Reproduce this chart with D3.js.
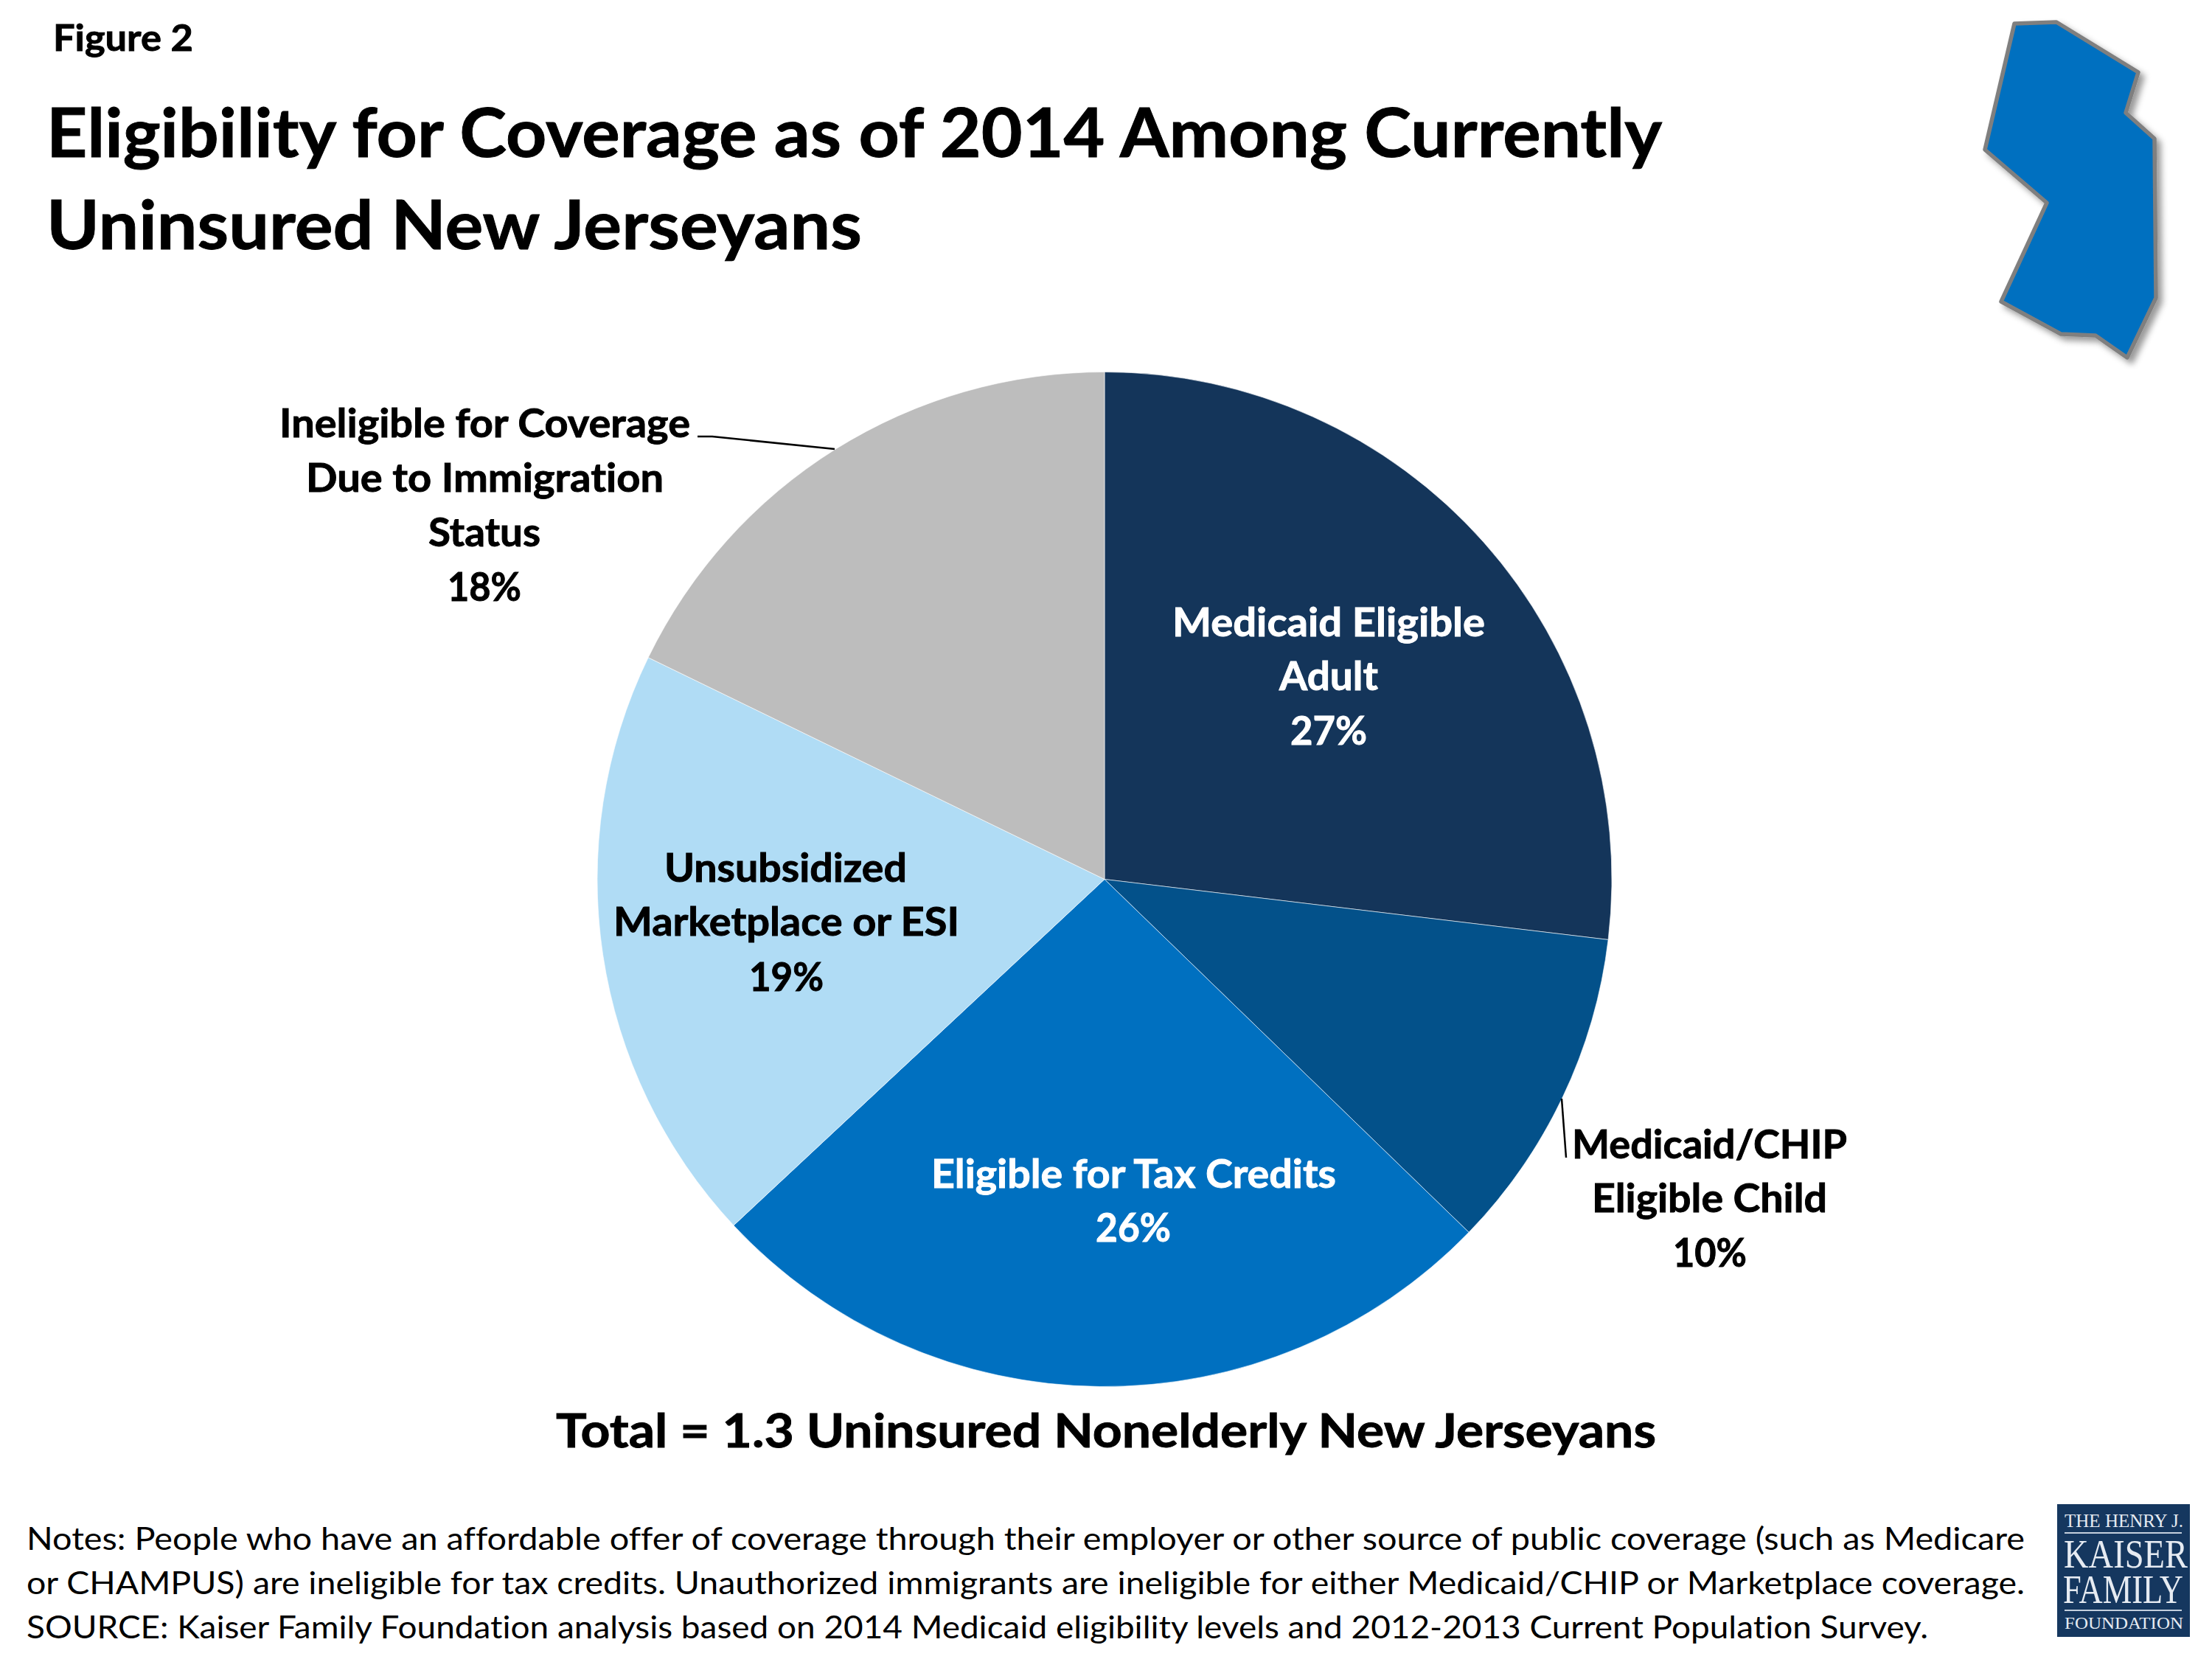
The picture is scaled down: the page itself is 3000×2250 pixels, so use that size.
<!DOCTYPE html>
<meta charset="utf-8">
<style>
  html, body { margin: 0; background: #fff; }
  svg { display: block; }
  text { font-family: Lato, "Open Sans", sans-serif; font-weight: 700; fill: #000; font-variant-ligatures: none; }
  .bold { stroke-width: 0.9px; }
  .note { font-weight: 400; }
  .logo { font-family: "Liberation Serif", serif; font-weight: 400; fill: #e6ebf2; }
</style>
<div class="container"></div>
<script src="https://cdn.jsdelivr.net/npm/d3@7"></script>
<script>

var categories = ["Medicaid Eligible Adult", "Medicaid/CHIP Eligible Child", "Eligible for Tax Credits", "Unsubsidized Marketplace or ESI", "Ineligible for Coverage Due to Immigration Status"];
var shares = [26.9, 10.35, 25.8, 19.15, 17.8];
var percentLabels = ["27%", "10%", "26%", "19%", "18%"];
var colors = ["#14355a", "#03518a", "#0070c0", "#b0dcf5", "#bdbdbd"];

var width = 3000, height = 2250;
var cx = 1498, cy = 1192.5, radius = 688;

var svg = d3.select(".container").append("svg")
  .attr("width", width)
  .attr("height", height);

// the little state outline top right
var njOutline = [[2732,32],[2789,30],[2900,98],[2883,153],[2922,188],[2924,404],[2885,485],[2842,455],[2795,453],[2714,409],[2776,275],[2692,203]];

var shadow = svg.append("defs").append("filter")
  .attr("id", "shadow")
  .attr("x", "-20%").attr("y", "-20%")
  .attr("width", "150%").attr("height", "150%");
shadow.append("feDropShadow")
  .attr("dx", 6).attr("dy", 6)
  .attr("stdDeviation", 4)
  .attr("flood-color", "#000")
  .attr("flood-opacity", 0.4);

svg.append("path")
  .attr("d", d3.line()(njOutline) + "Z")
  .attr("fill", "#0070c0")
  .attr("stroke", "#7f7f7f")
  .attr("stroke-width", 5.5)
  .attr("stroke-linejoin", "round")
  .attr("filter", "url(#shadow)");

var pie = d3.pie().sort(null);
var arc = d3.arc().innerRadius(0).outerRadius(radius);

svg.append("g")
  .attr("transform", "translate(" + cx + "," + cy + ")")
  .selectAll("path")
  .data(pie(shares))
  .enter()
  .append("path")
    .attr("d", arc)
    .attr("fill", function(d, i) { return colors[i]; })
    .attr("stroke", "#fff")
    .attr("stroke-width", 0.6);

// leader lines
[
  [[946,592],[966,592],[1132,609]],
  [[2118,1490],[2124,1570]]
].forEach(function(pts) {
  svg.append("path")
    .attr("d", d3.line()(pts))
    .attr("fill", "none")
    .attr("stroke", "#000")
    .attr("stroke-width", 2.5);
});

// every line of text: string, left edge, right edge, baseline, size, colour
function put(str, x0, x1, y, size, fill, cls) {
  var col = fill || "#000";
  svg.append("text")
    .attr("class", cls || "bold")
    .attr("x", x0)
    .attr("y", y)
    .attr("font-size", size)
    .attr("textLength", x1 - x0)
    .attr("lengthAdjust", "spacingAndGlyphs")
    .style("fill", cls === "logo" ? null : col)
    .style("stroke", cls ? "none" : col)
    .text(str);
}

put("Figure 2", 72, 262, 69, 50);
put("Eligibility for Coverage as of 2014 Among Currently", 63, 2254, 213, 92);
put("Uninsured New Jerseyans", 63, 1169, 338, 92);

put("Medicaid Eligible", 1590, 2014, 863, 53, "#fff");
put("Adult", 1735, 1869, 936, 53, "#fff");
put(percentLabels[0], 1750, 1854, 1010, 53, "#fff");

put("Medicaid/CHIP", 2132, 2505, 1571, 53);
put("Eligible Child", 2159, 2478, 1644, 53);
put(percentLabels[1], 2269, 2369, 1718, 53);

put("Eligible for Tax Credits", 1263, 1812, 1611, 53, "#fff");
put(percentLabels[2], 1486, 1588, 1684, 53, "#fff");

put("Unsubsidized", 901, 1230, 1196, 53);
put("Marketplace or ESI", 832, 1301, 1269, 53);
put(percentLabels[3], 1016, 1117, 1344, 53);

put("Ineligible for Coverage", 379, 936, 593, 53);
put("Due to Immigration", 415, 900, 667, 53);
put("Status", 581, 733, 741, 53);
put(percentLabels[4], 607, 707, 815, 53);

put("Total = 1.3 Uninsured Nonelderly New Jerseyans", 754, 2246, 1963, 64);

put("Notes: People who have an affordable offer of coverage through their employer or other source of public coverage (such as Medicare", 36, 2746, 2102, 43, null, "note");
put("or CHAMPUS) are ineligible for tax credits. Unauthorized immigrants are ineligible for either Medicaid/CHIP or Marketplace coverage.", 36, 2746, 2162, 43, null, "note");
put("SOURCE: Kaiser Family Foundation analysis based on 2014 Medicaid eligibility levels and 2012-2013 Current Population Survey.", 36, 2615, 2222, 43, null, "note");

// foundation logo
svg.append("rect")
  .attr("x", 2790).attr("y", 2040)
  .attr("width", 180).attr("height", 180)
  .attr("fill", "#15375f");
[2079, 2184].forEach(function(y) {
  svg.append("line")
    .attr("x1", 2800).attr("x2", 2959)
    .attr("y1", y).attr("y2", y)
    .attr("stroke", "#c4cfdd")
    .attr("stroke-width", 2);
});
put("THE HENRY J.", 2800, 2961, 2071, 25, null, "logo");
put("KAISER", 2799, 2967, 2126, 55, null, "logo");
put("FAMILY", 2798, 2961, 2174, 55, null, "logo");
put("FOUNDATION", 2800, 2961, 2209, 23, null, "logo");

</script>
